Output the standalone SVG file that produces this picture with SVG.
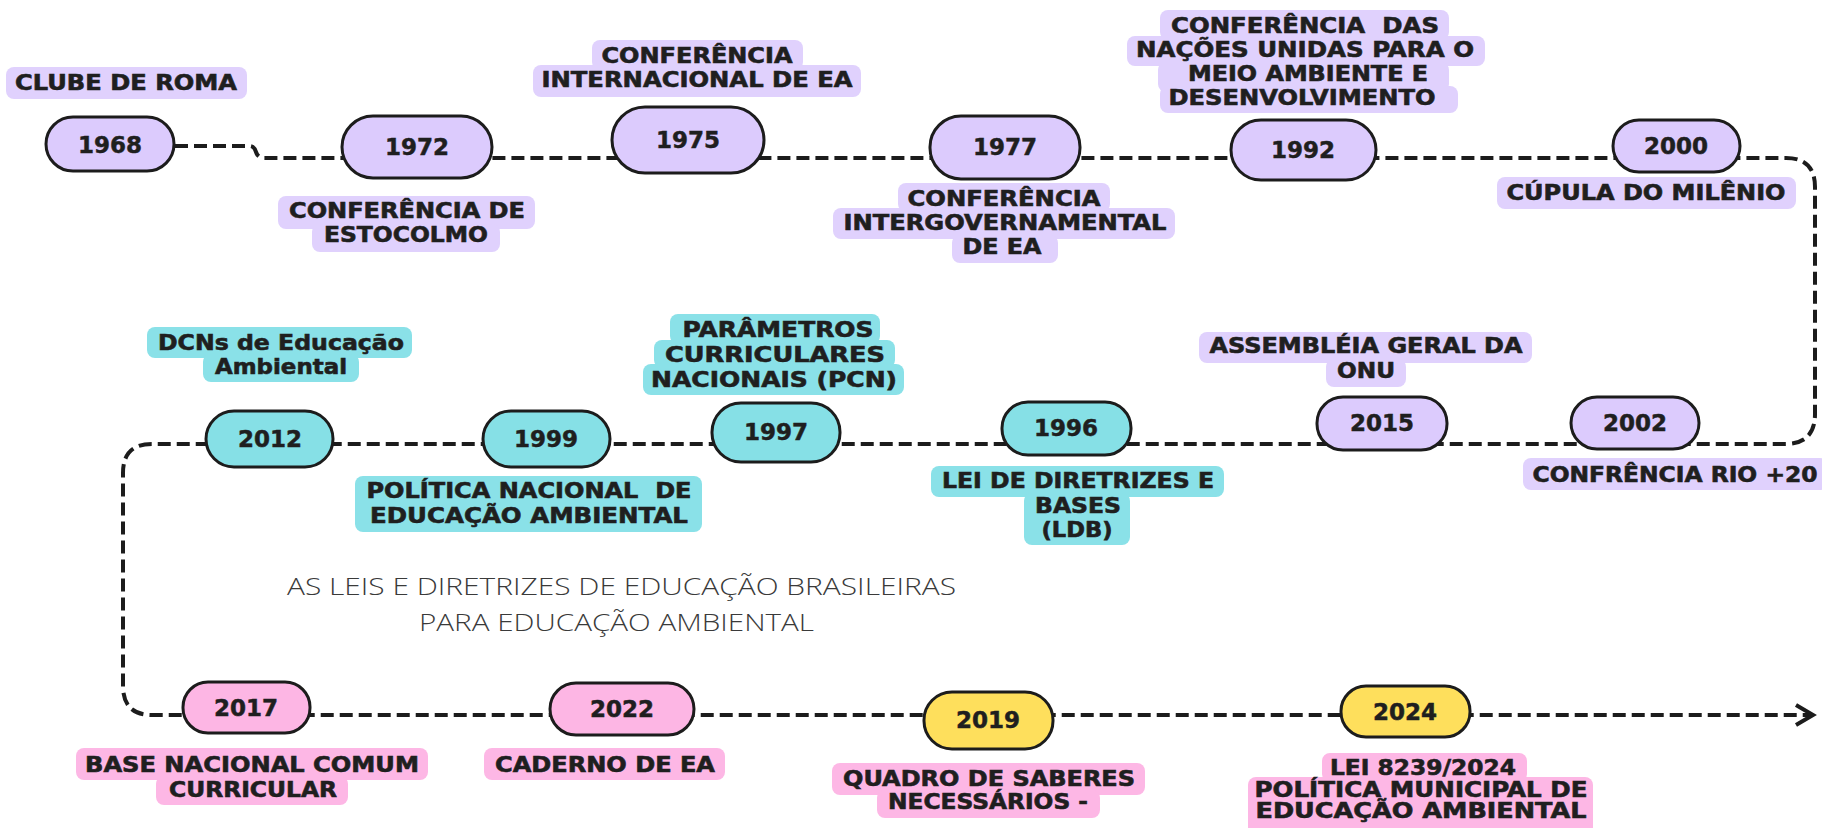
<svg xmlns="http://www.w3.org/2000/svg" width="1822" height="828" viewBox="0 0 1822 828">
<defs>
<style>
.pill{stroke:#1c1c1c;stroke-width:3}
.pp{fill:#dccbfd}.pt{fill:#86e0e6}.pk{fill:#fdb6e4}.py{fill:#fedf5c}
.bp{fill:#e0d1fd}.bt{fill:#8ae1e8}.bk{fill:#fdb7e5}
.yr{font-family:"DejaVu Sans","Liberation Sans",sans-serif;font-weight:bold;font-size:23px;fill:#1f1f1f;stroke:#1f1f1f;stroke-width:0.5;text-anchor:middle}
.lb{font-family:"DejaVu Sans","Liberation Sans",sans-serif;font-weight:bold;font-size:20.5px;fill:#1f1f1f;stroke:#1f1f1f;stroke-width:0.6;text-anchor:middle}
.tt{font-family:"Open Sans","Liberation Sans",sans-serif;font-weight:300;font-size:23px;fill:#3a3a3a}
.line{fill:none;stroke:#1c1c1c;stroke-width:4;stroke-dasharray:13 6}
</style>
<marker id="chev" markerWidth="26" markerHeight="26" refX="20" refY="12" orient="auto" markerUnits="userSpaceOnUse">
<path d="M 3 2 L 20 12 L 3 22" fill="none" stroke="#1c1c1c" stroke-width="4" stroke-dasharray="none"/>
</marker>
</defs>
<rect width="1822" height="828" fill="#ffffff"/>

<g id="connectors">
<path class="line" marker-end="url(#chev)" d="M 175 146 H 250 Q 254 146 256 152 Q 258 158 264 158 H 1786 Q 1815 158 1815 187 V 414 Q 1815 444 1785 444 H 152 Q 123 444 123 473 V 686 Q 123 715 152 715 H 1813"/>
</g>

<g id="title">
<text class="tt" x="287" y="595" textLength="669" lengthAdjust="spacingAndGlyphs">AS LEIS E DIRETRIZES DE EDUCAÇÃO BRASILEIRAS</text>
<text class="tt" x="419" y="631" textLength="395" lengthAdjust="spacingAndGlyphs">PARA EDUCAÇÃO AMBIENTAL</text>
</g>

<g id="n1968">
<rect class="pill pp" x="46" y="117" width="128" height="54" rx="27"/>
<text class="yr" x="110" y="153">1968</text>
<rect class="bp" x="6" y="67" width="241" height="32" rx="8"/>
<text class="lb" x="126" y="90" textLength="222" lengthAdjust="spacingAndGlyphs">CLUBE DE ROMA</text>
</g>

<g id="n1972">
<rect class="pill pp" x="342" y="116" width="150" height="62" rx="31"/>
<text class="yr" x="417" y="155">1972</text>
<rect class="bp" x="278" y="196" width="257" height="33" rx="8"/>
<rect class="bp" x="312" y="224" width="188" height="28" rx="8"/>
<text class="lb" x="407" y="218" textLength="236" lengthAdjust="spacingAndGlyphs">CONFERÊNCIA DE</text>
<text class="lb" x="406" y="242" textLength="164" lengthAdjust="spacingAndGlyphs">ESTOCOLMO</text>
</g>

<g id="n1975">
<rect class="pill pp" x="612" y="107" width="152" height="66" rx="33"/>
<text class="yr" x="688" y="148">1975</text>
<rect class="bp" x="592" y="40" width="211" height="30" rx="8"/>
<rect class="bp" x="533" y="65" width="328" height="32" rx="8"/>
<text class="lb" x="697" y="63" textLength="191" lengthAdjust="spacingAndGlyphs">CONFERÊNCIA</text>
<text class="lb" x="697" y="87" textLength="311" lengthAdjust="spacingAndGlyphs">INTERNACIONAL DE EA</text>
</g>

<g id="n1977">
<rect class="pill pp" x="930" y="116" width="150" height="63" rx="31"/>
<text class="yr" x="1005" y="155">1977</text>
<rect class="bp" x="898" y="183" width="212" height="29" rx="8"/>
<rect class="bp" x="833" y="208" width="342" height="31" rx="8"/>
<rect class="bp" x="952" y="235" width="106" height="28" rx="8"/>
<text class="lb" x="1004" y="206" textLength="193" lengthAdjust="spacingAndGlyphs">CONFERÊNCIA</text>
<text class="lb" x="1005" y="230" textLength="323" lengthAdjust="spacingAndGlyphs">INTERGOVERNAMENTAL</text>
<text class="lb" x="1002" y="254" textLength="79" lengthAdjust="spacingAndGlyphs">DE EA</text>
</g>

<g id="n1992">
<rect class="pill pp" x="1231" y="120" width="145" height="60" rx="30"/>
<text class="yr" x="1303" y="158">1992</text>
<rect class="bp" x="1160" y="10" width="289" height="30" rx="8"/>
<rect class="bp" x="1127" y="36" width="358" height="30" rx="8"/>
<rect class="bp" x="1158" y="62" width="291" height="30" rx="8"/>
<rect class="bp" x="1160" y="86" width="298" height="27" rx="8"/>
<text class="lb" x="1305" y="33" textLength="268" lengthAdjust="spacingAndGlyphs" style="white-space:pre">CONFERÊNCIA  DAS</text>
<text class="lb" x="1305" y="57" textLength="338" lengthAdjust="spacingAndGlyphs">NAÇÕES UNIDAS PARA O</text>
<text class="lb" x="1308" y="81" textLength="240" lengthAdjust="spacingAndGlyphs">MEIO AMBIENTE E</text>
<text class="lb" x="1302" y="105" textLength="267" lengthAdjust="spacingAndGlyphs">DESENVOLVIMENTO</text>
</g>

<g id="n2000">
<rect class="pill pp" x="1613" y="120" width="127" height="52" rx="26"/>
<text class="yr" x="1676" y="154">2000</text>
<rect class="bp" x="1497" y="177" width="299" height="32" rx="8"/>
<text class="lb" x="1646" y="200" textLength="279" lengthAdjust="spacingAndGlyphs">CÚPULA DO MILÊNIO</text>
</g>

<g id="n2002">
<rect class="pill pp" x="1571" y="397" width="128" height="52" rx="26"/>
<text class="yr" x="1635" y="431">2002</text>
<rect class="bp" x="1523" y="458" width="305" height="32" rx="8"/>
<text class="lb" x="1675" y="482" textLength="285" lengthAdjust="spacingAndGlyphs">CONFRÊNCIA RIO +20</text>
</g>

<g id="n2015">
<rect class="pill pp" x="1317" y="397" width="130" height="53" rx="26"/>
<text class="yr" x="1382" y="431">2015</text>
<rect class="bp" x="1199" y="332" width="333" height="31" rx="8"/>
<rect class="bp" x="1326" y="359" width="80" height="28" rx="8"/>
<text class="lb" x="1366" y="353" textLength="313" lengthAdjust="spacingAndGlyphs">ASSEMBLÉIA GERAL DA</text>
<text class="lb" x="1366" y="378" textLength="58" lengthAdjust="spacingAndGlyphs">ONU</text>
</g>

<g id="n1996">
<rect class="pill pt" x="1002" y="402" width="129" height="53" rx="26"/>
<text class="yr" x="1066" y="436">1996</text>
<rect class="bt" x="931" y="466" width="293" height="31" rx="8"/>
<rect class="bt" x="1024" y="493" width="106" height="52" rx="8"/>
<text class="lb" x="1078" y="488" textLength="272" lengthAdjust="spacingAndGlyphs">LEI DE DIRETRIZES E</text>
<text class="lb" x="1078" y="513" textLength="86" lengthAdjust="spacingAndGlyphs">BASES</text>
<text class="lb" x="1077" y="537" textLength="71" lengthAdjust="spacingAndGlyphs">(LDB)</text>
</g>

<g id="n1997">
<rect class="pill pt" x="712" y="403" width="128" height="59" rx="29"/>
<text class="yr" x="776" y="440">1997</text>
<rect class="bt" x="670" y="314" width="210" height="30" rx="8"/>
<rect class="bt" x="654" y="340" width="241" height="28" rx="8"/>
<rect class="bt" x="643" y="364" width="261" height="31" rx="8"/>
<text class="lb" x="778" y="337" textLength="191" lengthAdjust="spacingAndGlyphs">PARÂMETROS</text>
<text class="lb" x="775" y="362" textLength="220" lengthAdjust="spacingAndGlyphs">CURRICULARES</text>
<text class="lb" x="774" y="387" textLength="246" lengthAdjust="spacingAndGlyphs">NACIONAIS (PCN)</text>
</g>

<g id="n1999">
<rect class="pill pt" x="483" y="411" width="127" height="56" rx="28"/>
<text class="yr" x="546" y="447">1999</text>
<rect class="bt" x="355" y="476" width="347" height="56" rx="8"/>
<text class="lb" x="529" y="498" textLength="325" lengthAdjust="spacingAndGlyphs" style="white-space:pre">POLÍTICA NACIONAL  DE</text>
<text class="lb" x="529" y="523" textLength="318" lengthAdjust="spacingAndGlyphs">EDUCAÇÃO AMBIENTAL</text>
</g>

<g id="n2012">
<rect class="pill pt" x="206" y="411" width="127" height="56" rx="28"/>
<text class="yr" x="270" y="447">2012</text>
<rect class="bt" x="147" y="327" width="265" height="31" rx="8"/>
<rect class="bt" x="203" y="354" width="156" height="28" rx="8"/>
<text class="lb" x="281" y="350" textLength="246" lengthAdjust="spacingAndGlyphs">DCNs de Educação</text>
<text class="lb" x="281" y="374" textLength="132" lengthAdjust="spacingAndGlyphs">Ambiental</text>
</g>

<g id="n2017">
<rect class="pill pk" x="183" y="682" width="127" height="51" rx="25"/>
<text class="yr" x="246" y="716">2017</text>
<rect class="bk" x="76" y="748" width="352" height="32" rx="8"/>
<rect class="bk" x="156" y="776" width="192" height="29" rx="8"/>
<text class="lb" x="252" y="772" textLength="334" lengthAdjust="spacingAndGlyphs">BASE NACIONAL COMUM</text>
<text class="lb" x="253" y="797" textLength="168" lengthAdjust="spacingAndGlyphs">CURRICULAR</text>
</g>

<g id="n2022">
<rect class="pill pk" x="550" y="683" width="144" height="52" rx="26"/>
<text class="yr" x="622" y="717">2022</text>
<rect class="bk" x="484" y="748" width="241" height="32" rx="8"/>
<text class="lb" x="605" y="772" textLength="220" lengthAdjust="spacingAndGlyphs">CADERNO DE EA</text>
</g>

<g id="n2019">
<rect class="pill py" x="924" y="692" width="129" height="57" rx="28"/>
<text class="yr" x="988" y="728">2019</text>
<rect class="bk" x="832" y="763" width="313" height="32" rx="8"/>
<rect class="bk" x="877" y="790" width="223" height="28" rx="8"/>
<text class="lb" x="989" y="786" textLength="292" lengthAdjust="spacingAndGlyphs">QUADRO DE SABERES</text>
<text class="lb" x="988" y="809" textLength="200" lengthAdjust="spacingAndGlyphs">NECESSÁRIOS -</text>
</g>

<g id="n2024">
<rect class="pill py" x="1341" y="686" width="129" height="51" rx="25"/>
<text class="yr" x="1405" y="720">2024</text>
<rect class="bk" x="1322" y="753" width="205" height="29" rx="8"/>
<rect class="bk" x="1248" y="777" width="345" height="60" rx="8"/>
<text class="lb" x="1423" y="775" textLength="186" lengthAdjust="spacingAndGlyphs">LEI 8239/2024</text>
<text class="lb" x="1421" y="797" textLength="333" lengthAdjust="spacingAndGlyphs">POLÍTICA MUNICIPAL DE</text>
<text class="lb" x="1421" y="818" textLength="331" lengthAdjust="spacingAndGlyphs">EDUCAÇÃO AMBIENTAL</text>
</g>
</svg>
